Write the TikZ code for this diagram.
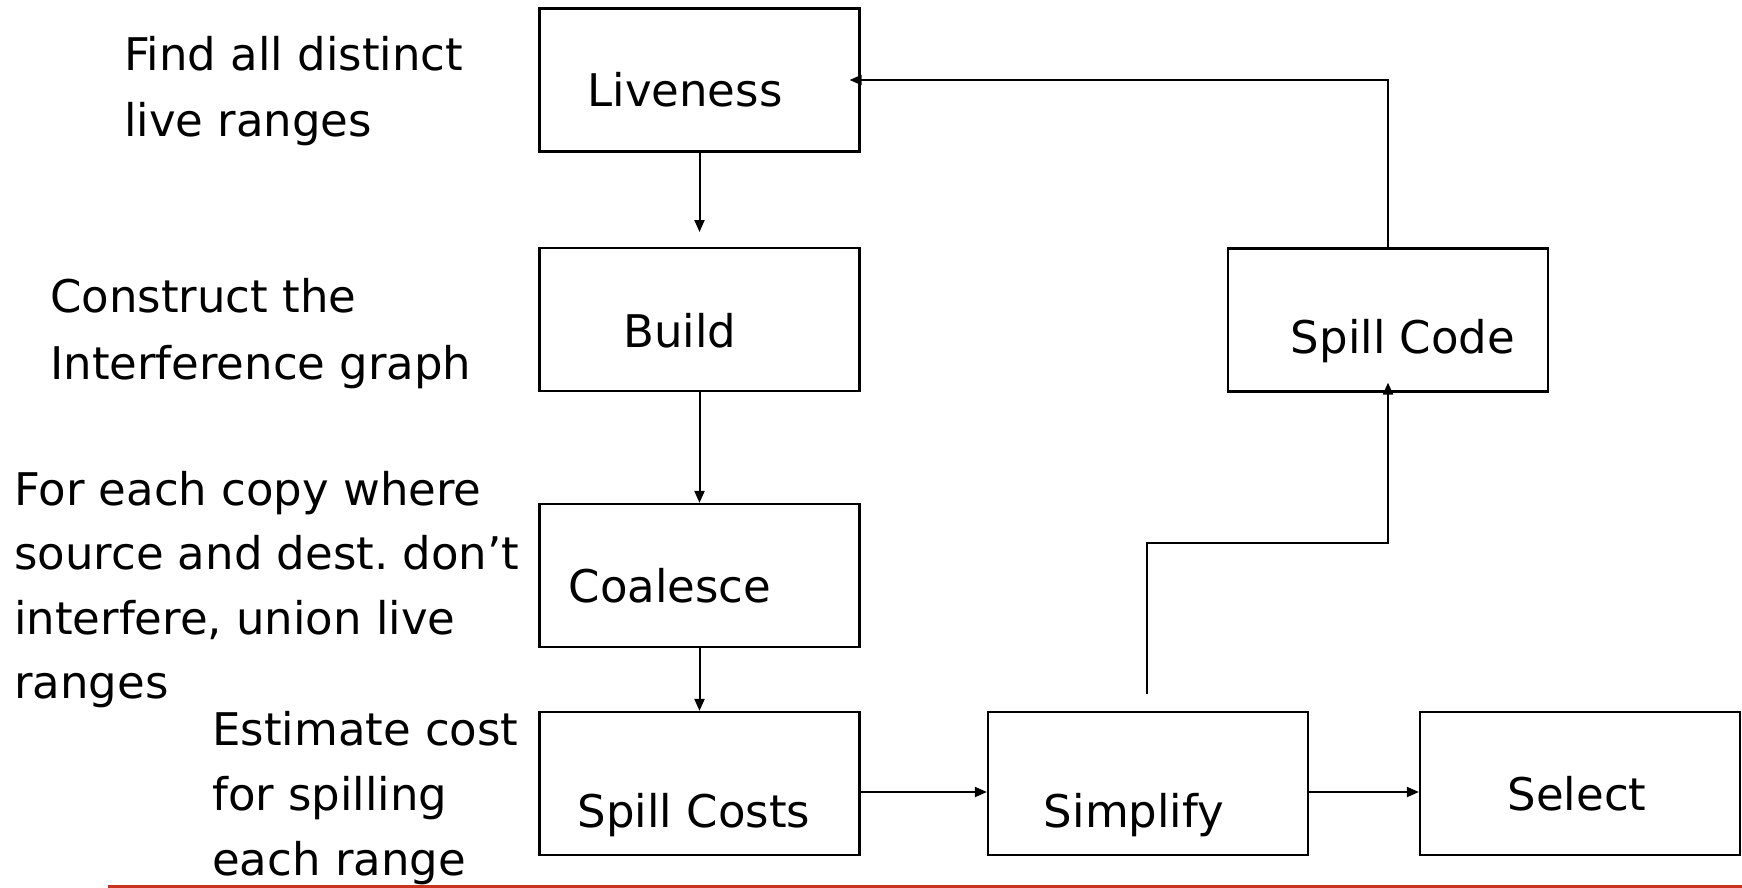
\documentclass[tikz,border=0pt]{standalone}
\usepackage{fontspec}
\setmainfont{DejaVu Sans}
\usetikzlibrary{arrows.meta,calc}
\definecolor{rulered}{RGB}{200,52,30}
\frenchspacing
\begin{document}
\begin{tikzpicture}[x=1pt,y=-1pt,
  stage/.style={draw, line width=2.2pt, minimum width=320pt, minimum height=143pt, inner sep=0pt},
  lbl/.style={font=\fontsize{45}{66}\selectfont, inner sep=0pt, anchor=base},
  note/.style={font=\fontsize{45}{66}\selectfont, inner sep=0pt, anchor=base west},
  flow/.style={line width=2pt, -{Triangle[length=12pt,width=10pt]}},
]
\useasboundingbox (0,0) rectangle (1742,888);

% stage boxes
\node[stage] (liveness)   at (699.5,80)    {};
\node[stage] (build)      at (699.5,319.5) {};
\node[stage] (coalesce)   at (699.5,575.5) {};
\node[stage] (spillcosts) at (699.5,783.5) {};
\node[stage] (simplify)   at (1148,783.5)  {};
\node[stage] (select)     at (1580,783.5)  {};
\node[stage] (spillcode)  at (1388,320)    {};

% stage names
\node[lbl] (liveness-t)   at (685,107)  {Liveness};
\node[lbl] (build-t)      at (680,347)  {Build};
\node[lbl] (coalesce-t)   at (670,602)  {Coalesce};
\node[lbl] (spillcosts-t) at (694,827)  {Spill Costs};
\node[lbl] (simplify-t)   at (1134,827) {Simplify};
\node[lbl] (select-t)     at (1577,810) {Select};
\node[lbl] (spillcode-t)  at (1403,353) {Spill Code};

% explanations
\node[note] (n-live) at (124,71)
  {\begin{tabular}[t]{@{}l@{}}Find all distinct\\live ranges\end{tabular}};
\node[note, font=\fontsize{45}{67}\selectfont] (n-build) at (50,312)
  {\begin{tabular}[t]{@{}l@{}}Construct the\\Interference graph\end{tabular}};
\node[note, font=\fontsize{45}{64.5}\selectfont] (n-coal) at (14,505)
  {\begin{tabular}[t]{@{}l@{}}For each copy where\\source and dest. don’t\\interfere, union live\\ranges\end{tabular}};
\node[note, font=\fontsize{45}{65}\selectfont] (n-cost) at (212,745)
  {\begin{tabular}[t]{@{}l@{}}Estimate cost\\for spilling\\each range\end{tabular}};

% connectors
\coordinate (livetip) at (699.5,232);
\draw[flow] (liveness.south) -- (livetip);
\draw[flow] (build.south) -- (coalesce.north);
\draw[flow] (coalesce.south) -- (spillcosts.north);
\draw[flow] ([yshift=-8.5pt]spillcosts.east) -- ([yshift=-8.5pt]simplify.west);
\draw[flow] ([yshift=-8.5pt]simplify.east) -- ([yshift=-8.5pt]select.west);
\coordinate (spillfrom) at (1147,694);
\draw[flow] (spillfrom) -- (1147,543) -| ([yshift=10pt]spillcode.south);
\draw[flow] (spillcode.north) |- ([xshift=-11pt]liveness.east);

% rule along the bottom
\coordinate (ruleL) at (108,886.5);
\coordinate (ruleR) at (1742,886.5);
\draw[rulered, line width=3pt] (ruleL) -- (ruleR);
\end{tikzpicture}
\end{document}
